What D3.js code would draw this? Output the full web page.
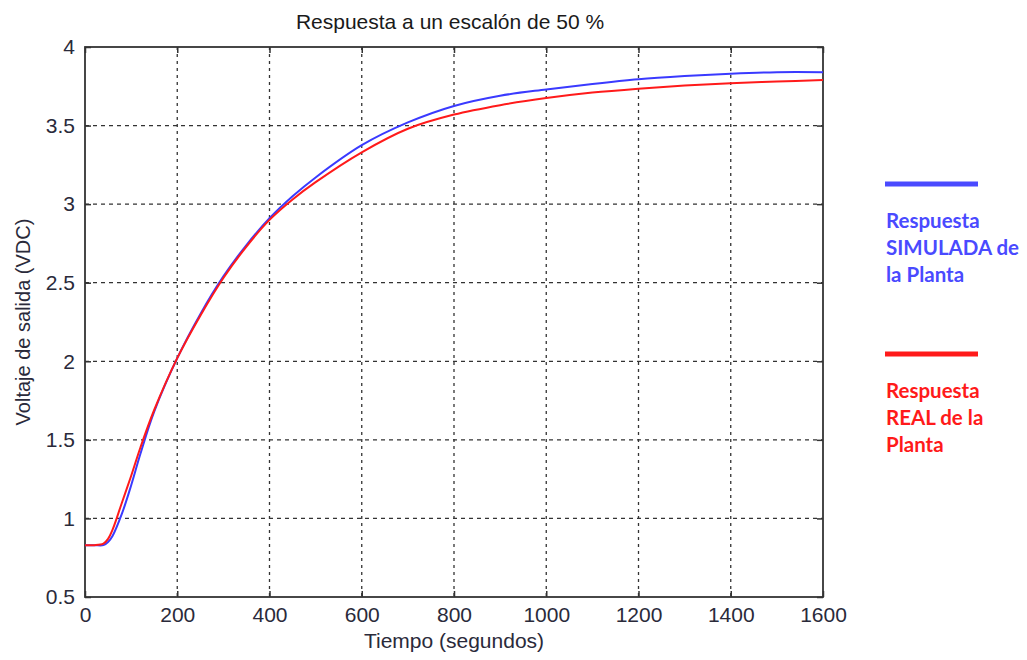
<!DOCTYPE html>
<html>
<head>
<meta charset="utf-8">
<script src="https://d3js.org/d3.v7.min.js"></script>
<style>
  body { margin: 0; background: #fff; }
  svg { display: block; }
</style>
</head>
<body>
<script>
// Data
var tiempo = [0, 20, 40, 50, 60, 80, 100, 120, 150, 200, 250, 300, 350, 400, 450, 500,
              600, 700, 800, 900, 1000, 1100, 1200, 1300, 1400, 1500, 1600];
var real = [0.83, 0.83, 0.84, 0.87, 0.93, 1.10, 1.27, 1.45, 1.69, 2.02, 2.29, 2.53, 2.73, 2.90, 3.03, 3.14,
            3.33, 3.48, 3.57, 3.63, 3.675, 3.71, 3.735, 3.755, 3.77, 3.78, 3.79];
var simulada = [0.83, 0.83, 0.83, 0.85, 0.89, 1.03, 1.21, 1.41, 1.68, 2.02, 2.30, 2.54, 2.74, 2.91, 3.05, 3.17,
                3.375, 3.52, 3.625, 3.69, 3.73, 3.765, 3.795, 3.815, 3.83, 3.84, 3.84];
var xTicks = [0, 200, 400, 600, 800, 1000, 1200, 1400, 1600];
var yTicks = [0.5, 1, 1.5, 2, 2.5, 3, 3.5, 4];

var W = 1027, H = 660;
var margin = {top: 47, right: 204, bottom: 63, left: 85},
    width = W - margin.left - margin.right,
    height = H - margin.top - margin.bottom;

var svg = d3.select("body").append("svg")
    .attr("width", W)
    .attr("height", H);

var g = svg.append("g")
    .attr("transform", "translate(" + margin.left + "," + margin.top + ")");

var x = d3.scaleLinear().domain([0, 1600]).range([0, width]);
var y = d3.scaleLinear().domain([0.5, 4]).range([height, 0]);

var font = "'Liberation Sans', Arial, sans-serif";
var fmt = function(d) { return String(d); };

// grid
g.selectAll(".vgrid").data(xTicks.slice(1, -1)).enter().append("line")
    .attr("x1", function(d) { return x(d); }).attr("x2", function(d) { return x(d); })
    .attr("y1", 0).attr("y2", height)
    .attr("stroke", "#333").attr("stroke-width", 1.3).attr("stroke-dasharray", "3,4");
g.selectAll(".hgrid").data(yTicks.slice(1, -1)).enter().append("line")
    .attr("y1", function(d) { return y(d); }).attr("y2", function(d) { return y(d); })
    .attr("x1", 0).attr("x2", width)
    .attr("stroke", "#333").attr("stroke-width", 1.3).attr("stroke-dasharray", "4,4");

// axes (inward ticks like matlab)
g.append("g")
    .attr("transform", "translate(0," + height + ")")
    .call(d3.axisBottom(x).tickValues(xTicks).tickSizeInner(-6).tickSizeOuter(0).tickPadding(10).tickFormat(fmt));
g.append("g")
    .call(d3.axisLeft(y).tickValues(yTicks).tickSizeInner(-6).tickSizeOuter(0).tickPadding(10).tickFormat(fmt));
g.append("g")
    .call(d3.axisTop(x).tickValues(xTicks).tickSizeInner(-6).tickSizeOuter(0).tickFormat(""));
g.append("g")
    .attr("transform", "translate(" + width + ",0)")
    .call(d3.axisRight(y).tickValues(yTicks).tickSizeInner(-6).tickSizeOuter(0).tickFormat(""));

g.selectAll(".domain").remove();
g.selectAll(".tick line").attr("stroke", "#333").attr("stroke-width", 1.5);
g.selectAll(".tick text")
    .attr("font-family", font).attr("font-size", 21).attr("fill", "#2a2a3a");

// frame
g.append("rect")
    .attr("width", width).attr("height", height)
    .attr("fill", "none").attr("stroke", "#333").attr("stroke-width", 1.8);

// curves
var line = d3.line()
    .x(function(d) { return x(d[0]); })
    .y(function(d) { return y(d[1]); })
    .curve(d3.curveCatmullRom);

g.append("path")
    .datum(tiempo.map(function(t, i) { return [t, simulada[i]]; }))
    .attr("d", line)
    .attr("fill", "none").attr("stroke", "#3a3aff").attr("stroke-width", 2);
g.append("path")
    .datum(tiempo.map(function(t, i) { return [t, real[i]]; }))
    .attr("d", line)
    .attr("fill", "none").attr("stroke", "#ff1a1a").attr("stroke-width", 2);

// titles
svg.append("text")
    .attr("x", margin.left + width / 2 - 4).attr("y", 29)
    .attr("text-anchor", "middle")
    .attr("font-family", font).attr("font-size", 21).attr("fill", "#1a1a1a")
    .text("Respuesta a un escalón de 50 %");
svg.append("text")
    .attr("x", margin.left + width / 2).attr("y", 648)
    .attr("text-anchor", "middle")
    .attr("font-family", font).attr("font-size", 21).attr("fill", "#2a2a3a")
    .text("Tiempo (segundos)");
svg.append("text")
    .attr("transform", "translate(30," + (margin.top + height / 2) + ") rotate(-90)")
    .attr("text-anchor", "middle")
    .attr("font-family", font).attr("font-size", 20).attr("fill", "#2a2a3a")
    .text("Voltaje de salida (VDC)");

// legend
var legend = [
  {color: "#4a4aff", y: 184, lines: ["Respuesta", "SIMULADA de", "la Planta"]},
  {color: "#ff1a1a", y: 354, lines: ["Respuesta", "REAL de la", "Planta"]}
];
legend.forEach(function(l) {
  svg.append("line")
      .attr("x1", 885).attr("x2", 978)
      .attr("y1", l.y).attr("y2", l.y)
      .attr("stroke", l.color).attr("stroke-width", 5);
  l.lines.forEach(function(s, i) {
    svg.append("text")
        .attr("x", 886).attr("y", l.y + 44 + i * 27)
        .attr("font-family", "Lato, 'Open Sans', sans-serif")
        .attr("font-weight", 700).attr("font-size", 20.5)
        .attr("fill", l.color)
        .text(s);
  });
});
</script>
</body>
</html>
